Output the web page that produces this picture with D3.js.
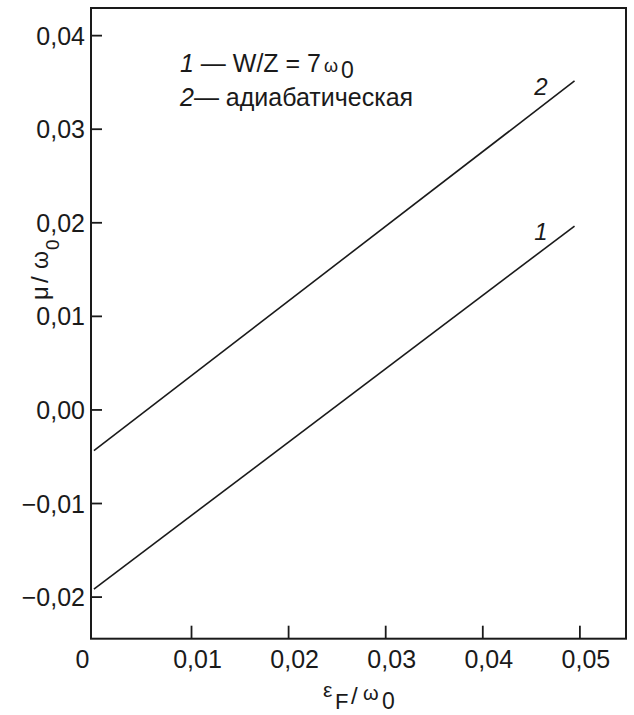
<!DOCTYPE html>
<meta charset="utf-8">
<head>
  <title>mu / omega0 vs eF / omega0</title>
</head>

<style>
body {
  margin: 0;
  background: white;
}
text {
  font-family: "Liberation Sans", Arial, Helvetica, sans-serif;
  fill: #1a1a1a;
}
.frame {
  fill: none;
  stroke: #1a1a1a;
  stroke-width: 2;
}
.curve {
  fill: none;
  stroke: #1a1a1a;
  stroke-width: 1.6;
}
.tick line {
  stroke: #1a1a1a;
  stroke-width: 1.8;
}
</style>

<body>
  <svg width="634" height="715"></svg>

  <script src="https://d3js.org/d3.v7.min.js"></script>
  <script>
// values
var xTicks = [0, 0.01, 0.02, 0.03, 0.04, 0.05];
var yTicks = [-0.02, -0.01, 0, 0.01, 0.02, 0.03, 0.04];

var epsF = [0, 0.0495];
var mu1 = [-0.0192, 0.0196];   // 1 - W/Z = 7 w0
var mu2 = [-0.0044, 0.0351];   // 2 - adiabatic

var curves = [
  {name: '1', values: mu1},
  {name: '2', values: mu2}
];

var svg = d3.select('svg');

var box = {left: 91, top: 8, right: 626, bottom: 638.7};

var x = d3.scaleLinear()
  .domain([-0.0003, 0.0548])
  .range([box.left, box.right]);

var y = d3.scaleLinear()
  .domain([-0.0245, 0.0429])
  .range([box.bottom, box.top]);

var fmt = function(v) {
  return d3.format('.2f')(v).replace('.', ',');
};

// frame
svg.append('rect')
  .attr('class', 'frame')
  .attr('x', box.left)
  .attr('y', box.top)
  .attr('width', box.right - box.left)
  .attr('height', box.bottom - box.top);

// y axis, ticks pointing inward
var yAxis = svg.append('g')
  .attr('transform', 'translate(' + box.left + ',0)')
  .call(d3.axisLeft(y)
    .tickValues(yTicks)
    .tickSizeInner(-11)
    .tickSizeOuter(0)
    .tickPadding(6)
    .tickFormat(fmt));

yAxis.select('.domain').remove();
yAxis.selectAll('text')
  .attr('fill', '#1a1a1a')
  .style('font-size', '25px')
  .attr('dy', '0.36em');

// x axis, ticks pointing inward
var xAxis = svg.append('g')
  .attr('transform', 'translate(0,' + box.bottom + ')')
  .call(d3.axisBottom(x)
    .tickValues(xTicks)
    .tickSizeInner(-13)
    .tickSizeOuter(0)
    .tickPadding(0)
    .tickFormat(function(d) { return d === 0 ? '0' : fmt(d); }));

xAxis.select('.domain').remove();
xAxis.selectAll('.tick')
  .filter(function(d) { return d === 0; })
  .select('line').remove();
xAxis.selectAll('text')
  .attr('fill', '#1a1a1a')
  .style('font-size', '25px')
  .attr('dy', 0)
  .attr('y', 29.5)
  .attr('dx', function(d) { return d === 0 ? -12 : 6; });

// curves
var line = d3.line()
  .x(function(d, i) { return x(epsF[i]); })
  .y(function(d) { return y(d); });

svg.selectAll('.curve')
  .data(curves)
  .enter()
  .append('path')
  .attr('class', 'curve')
  .attr('d', function(d) { return line(d.values); });

svg.selectAll('.curve-label')
  .data(curves)
  .enter()
  .append('text')
  .attr('class', 'curve-label')
  .attr('x', function(d) { return x(epsF[epsF.length - 1]) - 27; })
  .attr('y', function(d) { return y(d.values[d.values.length - 1]) + 14; })
  .attr('text-anchor', 'end')
  .style('font-size', '24px')
  .style('font-style', 'italic')
  .text(function(d) { return d.name; });

// legend
var leg1 = svg.append('text')
  .attr('x', 180)
  .attr('y', 72)
  .style('font-size', '25px');
leg1.append('tspan').style('font-style', 'italic').text('1');
leg1.append('tspan').text(' \u2014 W/Z = 7');
leg1.append('tspan').attr('dx', 3).style('font-size', '18px').text('\u03c9');
leg1.append('tspan').attr('dx', 3).attr('dy', 6).style('font-size', '23px').text('0');

var leg2 = svg.append('text')
  .attr('x', 180)
  .attr('y', 106)
  .style('font-size', '25px');
leg2.append('tspan').style('font-style', 'italic').text('2');
leg2.append('tspan').text('\u2014 адиабатическая');

// x title: eF / w0
var xt = svg.append('text');
xt.append('tspan').attr('x', 323).attr('y', 697).style('font-size', '21px').text('\u03b5');
xt.append('tspan').attr('x', 335).attr('y', 709).style('font-size', '22px').text('F');
xt.append('tspan').attr('x', 351).attr('y', 704).style('font-size', '24px').text('/');
xt.append('tspan').attr('x', 363).attr('y', 700).style('font-size', '20px').text('\u03c9');
xt.append('tspan').attr('x', 382).attr('y', 709).style('font-size', '23px').text('0');

// y title: mu / w0 (rotated)
var yt = svg.append('text')
  .attr('transform', 'translate(48,300) rotate(-90)');
yt.append('tspan').attr('x', 0).attr('y', 0).style('font-size', '24px').text('\u03bc');
yt.append('tspan').attr('x', 17).attr('y', 0).style('font-size', '24px').text('/');
yt.append('tspan').attr('x', 31).attr('y', 0).style('font-size', '23px').text('\u03c9');
yt.append('tspan').attr('x', 50).attr('y', 11).style('font-size', '19px').text('0');
  </script>
</body>
</html>
